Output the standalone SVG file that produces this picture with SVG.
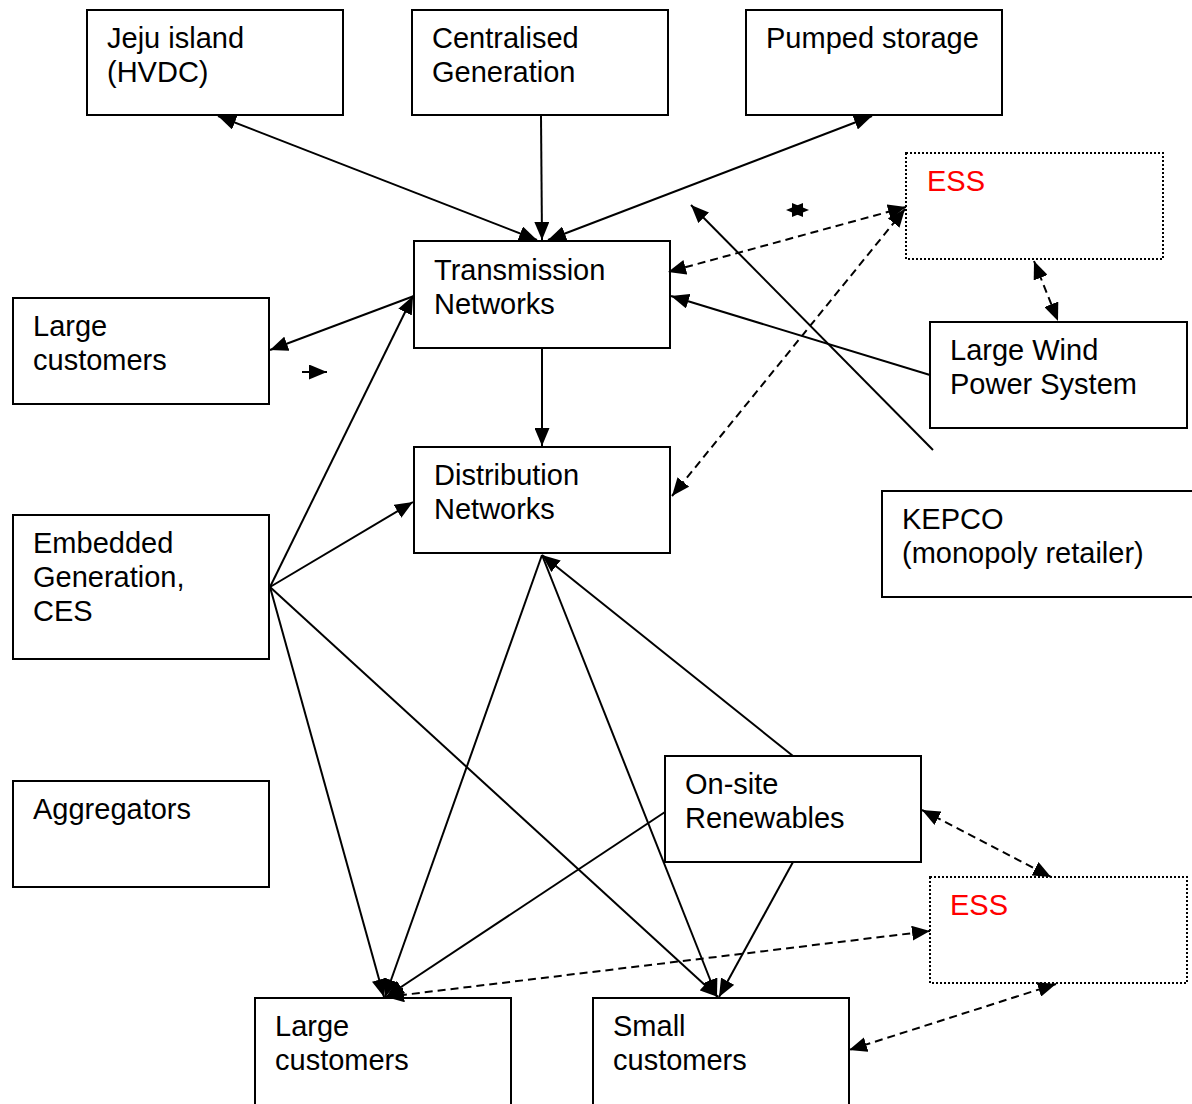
<svg xmlns="http://www.w3.org/2000/svg" width="1192" height="1104" viewBox="0 0 1192 1104">
  <style>
    .box { fill: #fff; stroke: #000; stroke-width: 2; }
    .dot { fill: #fff; stroke: #000; stroke-width: 2; stroke-dasharray: 2 2; }
    .lbl { font-family: "Liberation Sans", Arial, sans-serif; font-size: 29px; fill: #000; }
    .red { fill: #ff0000; }
    .ln { fill: none; stroke: #000; stroke-width: 2; }
    .dash { stroke-dasharray: 8 5; }
    .end { marker-end: url(#arr); }
    .both { marker-start: url(#arr); marker-end: url(#arr); }
  </style>
  <defs>
    <marker id="arr" markerUnits="userSpaceOnUse" markerWidth="19" markerHeight="15" refX="18" refY="7.5" orient="auto-start-reverse" viewBox="0 0 19 15">
      <path d="M0,0 L18,7.5 L0,15 z" fill="#000"/>
    </marker>
  </defs>
  <rect width="1192" height="1104" fill="#fff"/>

  <!-- nodes -->
  <g id="jeju"><rect class="box" x="87" y="10" width="256" height="105"/>
    <text class="lbl" x="107" y="48">Jeju island</text><text class="lbl" x="107" y="82">(HVDC)</text></g>
  <g id="centralised"><rect class="box" x="412" y="10" width="256" height="105"/>
    <text class="lbl" x="432" y="48">Centralised</text><text class="lbl" x="432" y="82">Generation</text></g>
  <g id="pumped"><rect class="box" x="746" y="10" width="256" height="105"/>
    <text class="lbl" x="766" y="48">Pumped storage</text></g>
  <g id="ess-top"><rect class="dot" x="906" y="153" width="257" height="106"/>
    <text class="lbl red" x="927" y="191">ESS</text></g>
  <g id="transmission"><rect class="box" x="414" y="241" width="256" height="107"/>
    <text class="lbl" x="434" y="280">Transmission</text><text class="lbl" x="434" y="314">Networks</text></g>
  <g id="large-top"><rect class="box" x="13" y="298" width="256" height="106"/>
    <text class="lbl" x="33" y="336">Large</text><text class="lbl" x="33" y="370">customers</text></g>
  <g id="wind"><rect class="box" x="930" y="322" width="257" height="106"/>
    <text class="lbl" x="950" y="360">Large Wind</text><text class="lbl" x="950" y="394">Power System</text></g>
  <g id="distribution"><rect class="box" x="414" y="447" width="256" height="106"/>
    <text class="lbl" x="434" y="485">Distribution</text><text class="lbl" x="434" y="519">Networks</text></g>
  <g id="kepco"><rect class="box" x="882" y="491" width="330" height="106"/>
    <text class="lbl" x="902" y="529">KEPCO</text><text class="lbl" x="902" y="563">(monopoly retailer)</text></g>
  <g id="embedded"><rect class="box" x="13" y="515" width="256" height="144"/>
    <text class="lbl" x="33" y="553">Embedded</text><text class="lbl" x="33" y="587">Generation,</text><text class="lbl" x="33" y="621">CES</text></g>
  <g id="aggregators"><rect class="box" x="13" y="781" width="256" height="106"/>
    <text class="lbl" x="33" y="819">Aggregators</text></g>
  <g id="onsite"><rect class="box" x="665" y="756" width="256" height="106"/>
    <text class="lbl" x="685" y="794">On-site</text><text class="lbl" x="685" y="828">Renewables</text></g>
  <g id="ess-bottom"><rect class="dot" x="930" y="877" width="257" height="106"/>
    <text class="lbl red" x="950" y="915">ESS</text></g>
  <g id="large-bottom"><rect class="box" x="255" y="998" width="256" height="120"/>
    <text class="lbl" x="275" y="1036">Large</text><text class="lbl" x="275" y="1070">customers</text></g>
  <g id="small"><rect class="box" x="593" y="998" width="256" height="120"/>
    <text class="lbl" x="613" y="1036">Small</text><text class="lbl" x="613" y="1070">customers</text></g>

  <!-- connectors -->
  <g id="connectors">
    <line class="ln both" x1="218" y1="116" x2="537" y2="240"/>
    <line class="ln end" x1="541" y1="116" x2="542" y2="240"/>
    <line class="ln both" x1="872" y1="116" x2="548" y2="240"/>
    <line class="ln end" x1="414" y1="296" x2="270" y2="350"/>
    <line class="ln end" x1="302" y1="372" x2="327" y2="372"/>
    <polygon points="786,210 803,203 803,217" fill="#000"/>
    <polygon points="809,210 792,203 792,217" fill="#000"/>
    <line class="ln dash both" x1="906" y1="207" x2="668" y2="272"/>
    <line class="ln dash both" x1="905" y1="209" x2="672" y2="496"/>
    <line class="ln dash both" x1="1034" y1="261" x2="1058" y2="321"/>
    <line class="ln end" x1="930" y1="375" x2="671" y2="296"/>
    <line class="ln end" x1="933" y1="450" x2="691" y2="205"/>
    <line class="ln end" x1="542" y1="348" x2="542" y2="446"/>
    <line class="ln end" x1="270" y1="587" x2="413" y2="296"/>
    <line class="ln end" x1="270" y1="587" x2="413" y2="502"/>
    <line class="ln end" x1="270" y1="587" x2="384" y2="997"/>
    <line class="ln end" x1="270" y1="587" x2="718" y2="997"/>
    <line class="ln end" x1="542" y1="555" x2="385" y2="997"/>
    <line class="ln end" x1="542" y1="555" x2="717" y2="997"/>
    <line class="ln end" x1="793" y1="756" x2="542" y2="555"/>
    <line class="ln end" x1="665" y1="812" x2="386" y2="997"/>
    <line class="ln end" x1="793" y1="862" x2="719" y2="997"/>
    <line class="ln dash both" x1="386" y1="997" x2="930" y2="931"/>
    <line class="ln dash both" x1="922" y1="810" x2="1051" y2="877"/>
    <line class="ln dash both" x1="1056" y1="984" x2="849" y2="1050"/>
  </g>
</svg>
